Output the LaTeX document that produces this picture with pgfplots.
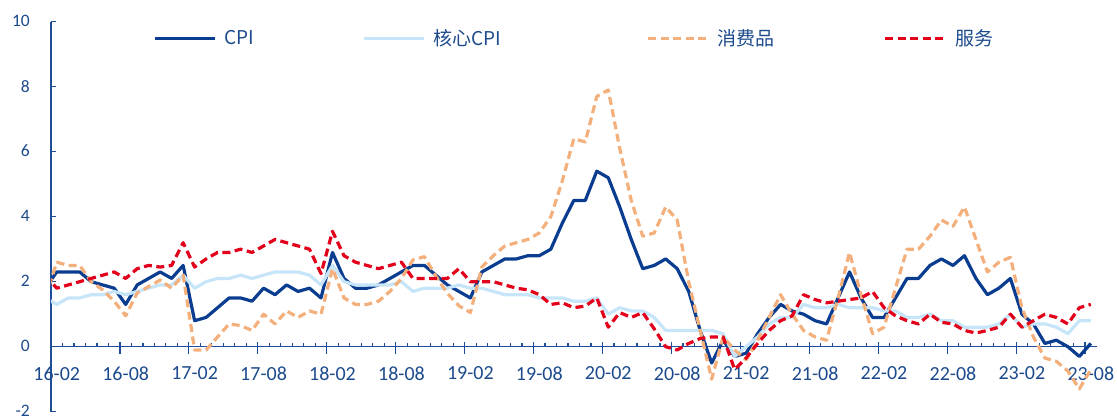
\documentclass[border=0pt]{standalone}
\usepackage{fontspec}
\setmainfont{Carlito}
\newfontfamily\cjk{Noto Sans CJK SC}
\usepackage{pgfplots}
\usepackage{pgfplotstable}
\pgfplotsset{compat=1.18}

\definecolor{cpiblue}{HTML}{0A3C8F}
\definecolor{coreblue}{HTML}{C7E5F8}
\definecolor{goodsorange}{HTML}{F3B07C}
\definecolor{servred}{HTML}{E2001A}
\definecolor{axisblue}{HTML}{1F4E99}
\definecolor{labelblue}{HTML}{1C4A8C}

% month index: -1 = 2016-01, 0 = 2016-02, ..., 90 = 2023-08
\pgfplotstableread{
m   cpi   core  goods  serv
-1  1.8   1.5   1.5    2.2
0   2.3   1.3   2.6    1.8
1   2.3   1.5   2.5    1.9
2   2.3   1.5   2.5    2.0
3   2.0   1.6   2.0    2.1
4   1.9   1.6   1.75   2.2
5   1.8   1.7   1.4    2.3
6   1.3   1.6   0.95   2.1
7   1.9   1.7   1.65   2.4
8   2.1   1.8   1.85   2.5
9   2.3   1.9   2.05   2.45
10  2.1   1.9   1.8    2.5
11  2.5   2.2   2.2    3.2
12  0.8   1.8   -0.1   2.45
13  0.9   2.0   -0.1   2.7
14  1.2   2.1   0.3    2.9
15  1.5   2.1   0.7    2.9
16  1.5   2.2   0.65   3.0
17  1.4   2.1   0.5    2.9
18  1.8   2.2   1.0    3.1
19  1.6   2.3   0.7    3.3
20  1.9   2.3   1.1    3.2
21  1.7   2.3   0.9    3.1
22  1.8   2.2   1.1    3.0
23  1.5   1.9   1.0    2.25
24  2.9   2.5   2.4    3.55
25  2.1   2.0   1.5    2.8
26  1.8   1.9   1.3    2.6
27  1.8   1.9   1.3    2.5
28  1.9   1.9   1.4    2.4
29  2.1   1.9   1.7    2.5
30  2.3   2.0   2.1    2.6
31  2.5   1.7   2.67   2.1
32  2.5   1.8   2.77   2.1
33  2.2   1.8   2.17   2.1
34  1.9   1.8   1.64   2.1
35  1.7   1.9   1.26   2.4
36  1.5   1.8   1.05   2.0
37  2.3   1.8   2.45   2.0
38  2.5   1.7   2.8    2.0
39  2.7   1.6   3.1    1.9
40  2.7   1.6   3.2    1.8
41  2.8   1.6   3.3    1.75
42  2.8   1.5   3.5    1.6
43  3.0   1.5   4.0    1.3
44  3.8   1.5   5.1    1.35
45  4.5   1.4   6.4    1.2
46  4.5   1.4   6.3    1.25
47  5.4   1.5   7.7    1.5
48  5.2   1.0   7.9    0.6
49  4.3   1.2   6.1    1.05
50  3.3   1.1   4.5    0.9
51  2.4   1.1   3.4    1.05
52  2.5   0.9   3.5    0.55
53  2.7   0.5   4.3    0.0
54  2.4   0.5   3.9    -0.1
55  1.7   0.5   2.0    0.1
56  0.5   0.5   0.5    0.25
57  -0.5  0.5   -1.0   0.3
58  0.2   0.4   0.3    0.3
59  -0.3  -0.3  -0.1   -0.7
60  -0.2  0.0   -0.4   -0.35
61  0.4   0.3   0.2    0.1
62  0.9   0.7   0.9    0.5
63  1.3   0.9   1.6    0.8
64  1.1   0.9   1.0    0.95
65  1.0   1.3   0.5    1.6
66  0.8   1.2   0.3    1.45
67  0.7   1.2   0.2    1.35
68  1.5   1.3   1.5    1.4
69  2.3   1.2   2.9    1.45
70  1.5   1.2   1.6    1.5
71  0.9   1.2   0.4    1.7
72  0.9   1.1   0.6    1.2
73  1.5   1.1   1.8    0.95
74  2.1   0.9   3.0    0.8
75  2.1   0.9   3.0    0.7
76  2.5   1.0   3.4    1.0
77  2.7   0.8   3.9    0.75
78  2.5   0.8   3.7    0.7
79  2.8   0.6   4.3    0.5
80  2.1   0.6   3.3    0.42
81  1.6   0.6   2.3    0.5
82  1.8   0.7   2.6    0.6
83  2.1   1.0   2.75   1.0
84  1.0   0.6   1.2    0.6
85  0.7   0.7   0.3    0.8
86  0.1   0.7   -0.35  1.0
87  0.2   0.6   -0.45  0.9
88  0.0   0.4   -0.75  0.7
89  -0.3  0.8   -1.3   1.2
90  0.1   0.8   -0.7   1.3
}\cpidata

\begin{document}
\begin{tikzpicture}[x=1pt,y=1pt]
\path[use as bounding box] (0,0) rectangle (1117,419);
\begin{axis}[
  at={(51pt,7.3pt)}, anchor=south west,
  scale only axis, width=1045.6pt, height=390pt,
  xmin=-0.5, xmax=90.5, ymin=-2, ymax=10,
  axis x line=middle, axis y line=left,
  axis line style={draw=axisblue, line width=1.3pt, -},
  hide obscured x ticks=false, hide obscured y ticks=false,
  ytick={-2,0,...,10},
  xtick={-0.5,5.5,...,89.5},
  xticklabels={16-02,16-08,17-02,17-08,18-02,18-08,19-02,19-08,20-02,20-08,21-02,21-08,22-02,22-08,23-02,23-08},
  minor x tick num=5,
  tick align=inside,
  major tick length=5pt, minor tick length=4pt,
  tick style={draw=axisblue, line width=1.2pt},
  extra x ticks={-0.5,5.5,...,89.5},
  extra x tick labels={},
  extra x tick style={tick align=outside, major tick length=7pt},
  /pgf/number format/assume math mode=true,
  xticklabel style={font=\fontsize{20}{20}\selectfont, text=labelblue, inner sep=0pt, anchor=north, xshift=5.75pt, yshift=-20pt},
  yticklabel style={font=\fontsize{17.5}{17.5}\selectfont, text=labelblue, inner sep=0pt, anchor=east, xshift=-21pt, yshift=0.6pt},
  legend columns=4,
  legend style={at={(0.0976,0.957)}, anchor=west, draw=none, fill=none, inner sep=0pt,
    font=\cjk\fontsize{19}{19}\selectfont, text=labelblue,
    nodes={inner sep=0pt},
    /tikz/every odd column/.append style={column sep=8pt},
    /tikz/every even column/.append style={column sep=0pt}},
  legend image code/.code={\draw[#1] (0pt,0pt) -- (60pt,0pt);},
  every axis plot/.append style={line width=3.2pt, line join=round},
]
\addplot[cpiblue] table[x=m, y=cpi] {\cpidata};
\addlegendentry{\makebox[138pt][l]{CPI}}
\addplot[coreblue] table[x=m, y=core] {\cpidata};
\addlegendentry{\makebox[213pt][l]{核心CPI}}
\addplot[goodsorange, dash pattern=on 8pt off 4.5pt] table[x=m, y=goods] {\cpidata};
\addlegendentry{\makebox[166pt][l]{消费品}}
\addplot[servred, dash pattern=on 8pt off 4.5pt] table[x=m, y=serv] {\cpidata};
\addlegendentry{服务}
\end{axis}
\end{tikzpicture}
\end{document}
